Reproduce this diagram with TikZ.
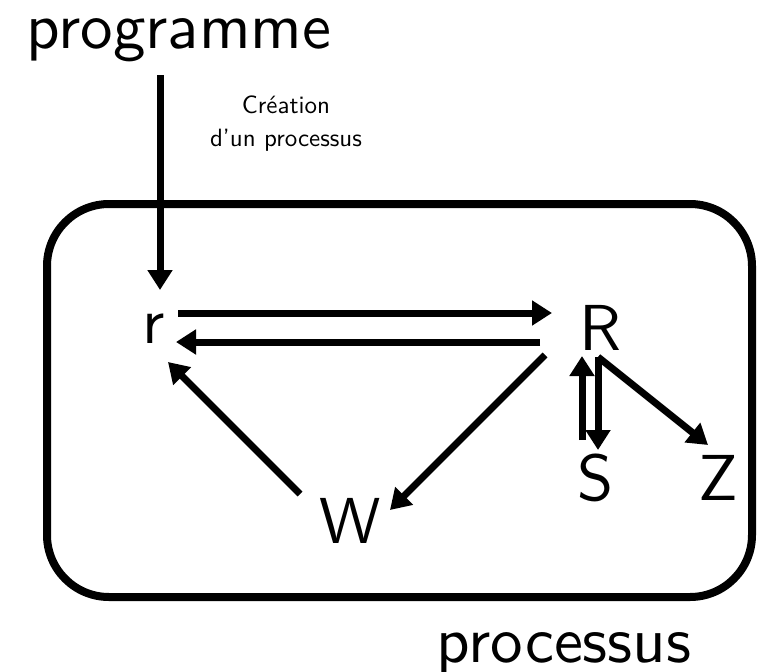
\documentclass[tikz,border=0pt]{standalone}
\usepackage{fontspec}
\usetikzlibrary{arrows.meta,calc}
\begin{document}
\begin{tikzpicture}[x=1pt,y=-1pt,
  big/.style={font=\fontsize{10}{12}\selectfont\sffamily, scale=6.5, inner sep=0pt, anchor=base},
  small/.style={font=\fontsize{10}{12}\selectfont\sffamily, scale=2.5, inner sep=0pt, anchor=base},
  link/.style={line width=7pt, -{Triangle[length=20pt,width=24pt]}},
  frame/.style={line width=8pt, rounded corners=62pt}]
  \useasboundingbox (0,0) rectangle (772,672);

  % state box
  \draw[frame] (47,204) rectangle (752,597);

  % labels
  \node[big] (prog) at (179,48) {programme};
  \node[big] (proc) at (564,662) {processus};
  \node[small] (c1) at (286,113) {Création};
  \node[small] (c2) at (286,146) {d'un processus};

  % states
  \node[big] (r) at (154,343) {r};
  \node[big] (R) at (600,350) {R};
  \node[big] (S) at (596,500) {S};
  \node[big] (Z) at (718,500) {Z};
  \node[big] (W) at (350,543) {W};

  % transitions
  \draw[link] ($(prog.base)+(-19,27)$) -- ($(r.base)+(6,-53)$);
  \draw[link] ($(r.base)+(24,-30)$) -- ($(R.base)+(-48,-37)$);
  \draw[link] ($(R.base)+(-60,-8)$) -- ($(r.base)+(22,-1)$);
  \draw[link] ($(W.base)+(-50,-49)$) -- ($(r.base)+(14,19)$);
  \draw[link] ($(R.base)+(-55,5)$) -- ($(W.base)+(40,-33)$);
  \draw[link] ($(S.base)+(-14,-60)$) -- ($(R.base)+(-18,6)$);
  \draw[link] ($(R.base)+(-2,7)$) -- ($(S.base)+(2,-50)$);
  \draw[link] ($(R.base)+(-2,7)$) -- ($(Z.base)+(-10,-55)$);
\end{tikzpicture}
\end{document}
